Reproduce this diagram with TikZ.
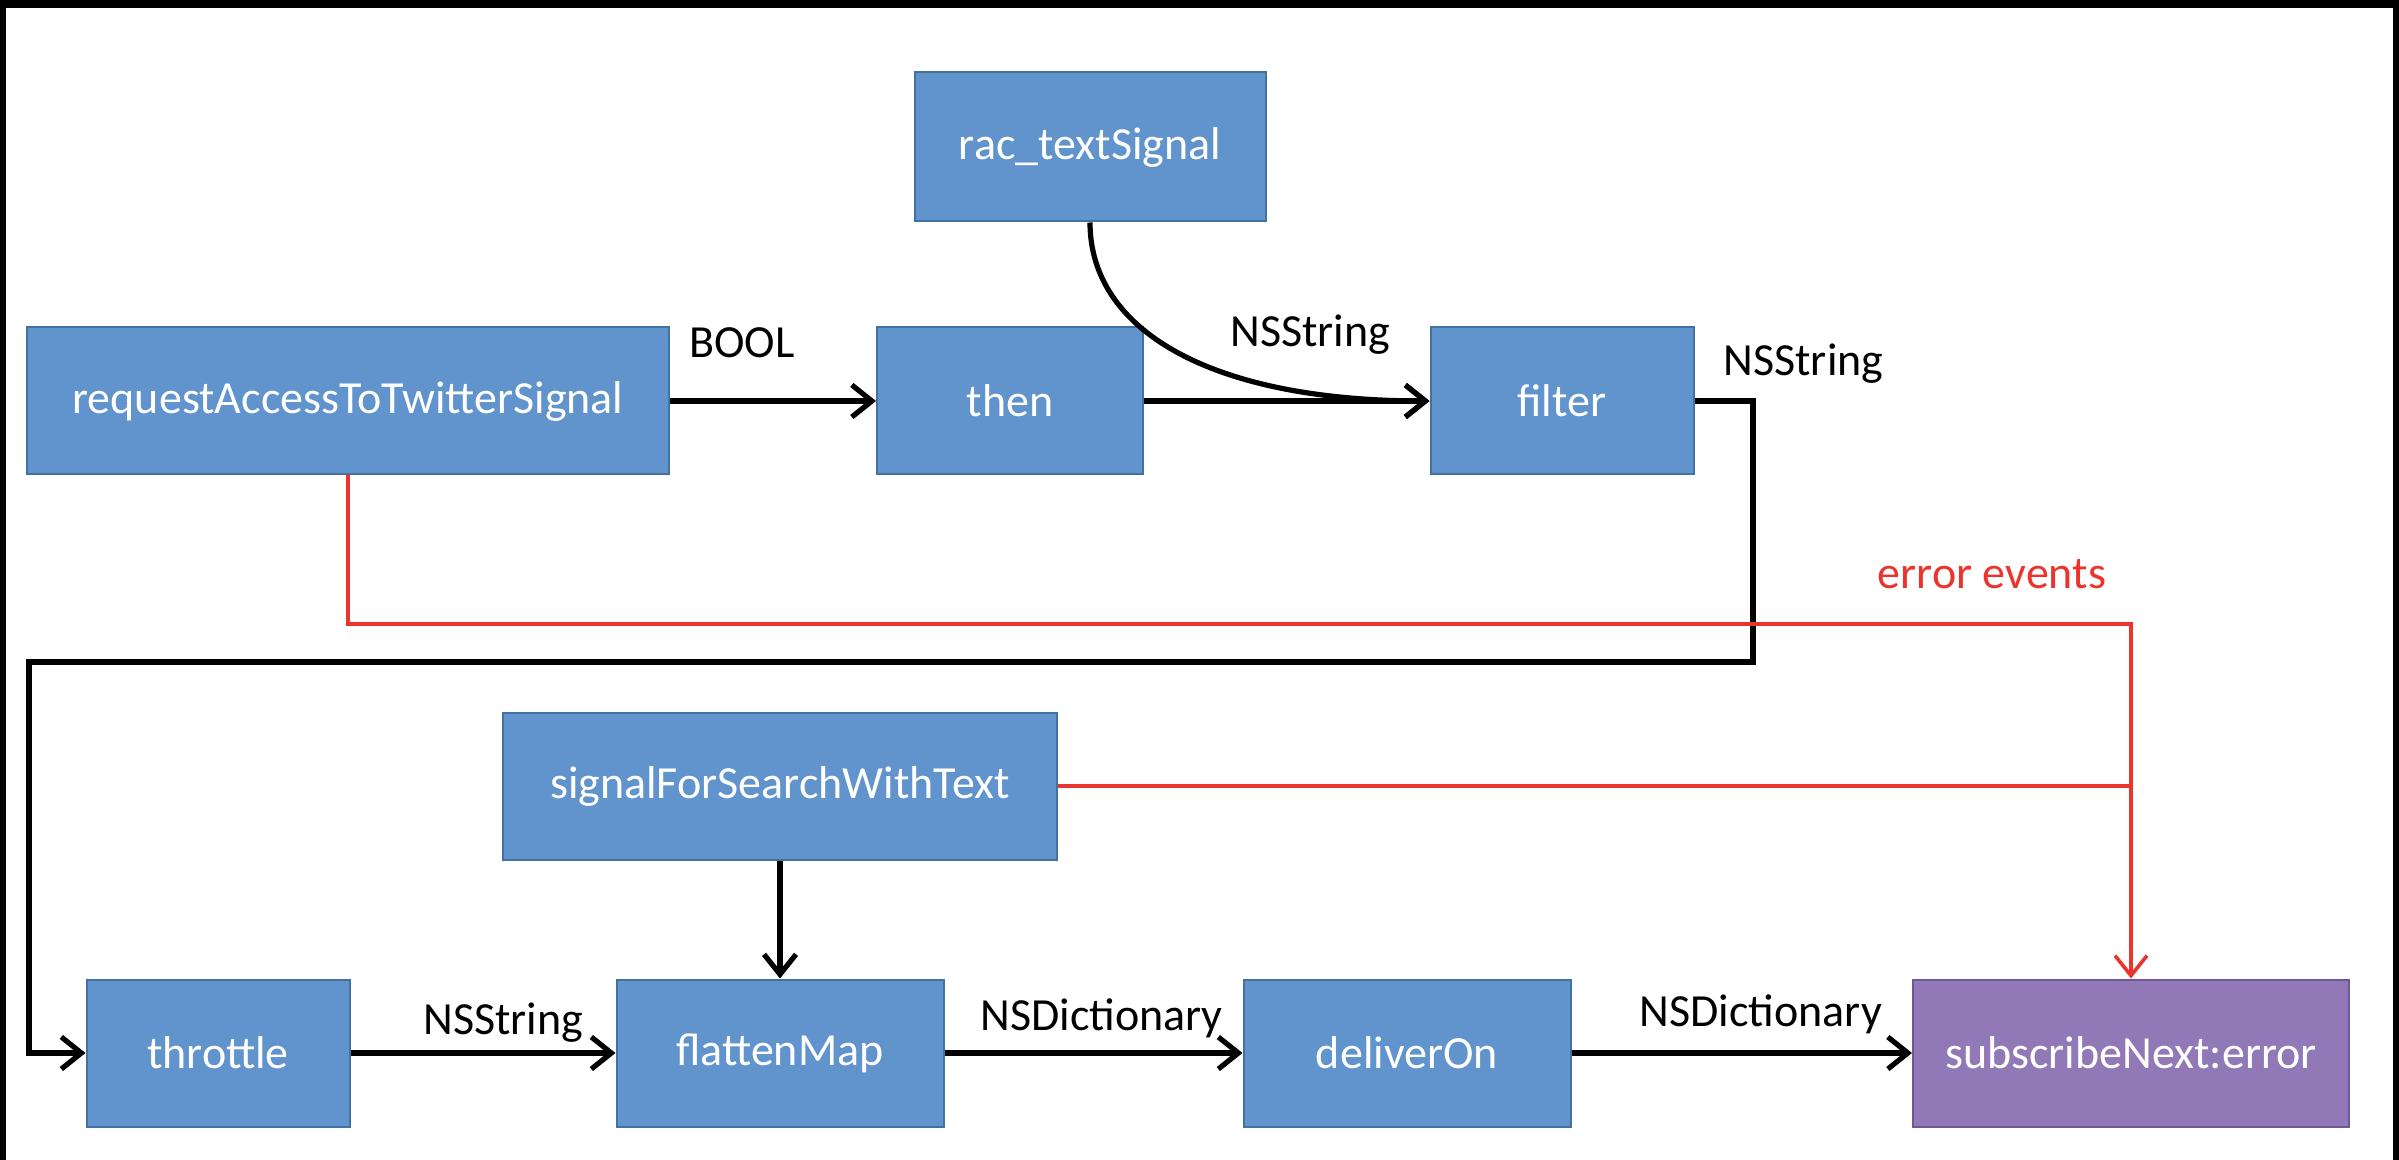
\documentclass[tikz,border=0pt]{standalone}
\usepackage{fontspec}
\setmainfont{Carlito}
\usepackage{xcolor}
\usepackage{tikz}
\usetikzlibrary{shapes,arrows.meta}
\definecolor{boxblue}{RGB}{97,147,204}
\definecolor{boxedge}{RGB}{66,114,160}
\definecolor{boxpurple}{RGB}{145,121,183}
\definecolor{purpleedge}{RGB}{112,88,150}
\definecolor{errred}{RGB}{236,52,46}
\tikzstyle{block} = [rectangle, draw=boxedge, line width=1pt, fill=boxblue, text=white,
    text centered, inner sep=0pt, minimum height=73.5pt]
\tikzstyle{sinkblock} = [block, draw=purpleedge, fill=boxpurple]
\tikzstyle{line} = [draw, line width=2.6pt, -{Straight Barb[length=10pt,width=16pt]}]
\tikzstyle{errline} = [draw=errred, line width=1.8pt, -{Straight Barb[length=10pt,width=16pt]}]
\tikzstyle{lbl} = [anchor=base, inner sep=0pt]

\begin{document}
\begin{tikzpicture}[x=0.5pt, y=-0.5pt, font=\fontsize{23}{27}\selectfont]
    % frame
    \fill [black] (0,0) rectangle (2399,1160);
    \fill [white] (6,8) rectangle (2393,1160);
    \useasboundingbox (0,0) rectangle (2399,1160);

    % Place nodes
    \node [block, minimum width=321pt] (request) at (348,401) {requestAccessToTwitterSignal};
    \node [block, minimum width=133pt, right of=request, node distance=331pt] (then) {then};
    \node [block, minimum width=131.5pt, right of=then, node distance=276pt] (filter) {filter};
    \node [block, minimum width=175.5pt, minimum height=74.5pt] (textSignal) at (1090,147) {rac\_textSignal};
    \node [block, minimum width=131.5pt] (throttle) at (218,1053) {throttle};
    \node [block, minimum width=163.5pt, right of=throttle, node distance=281pt] (flattenMap) {flattenMap};
    \node [block, minimum width=163.5pt, right of=flattenMap, node distance=313.5pt] (deliverOn) {deliverOn};
    \node [sinkblock, minimum width=218pt, right of=deliverOn, node distance=362pt] (subscribe) {subscribeNext:error};
    \node [block, minimum width=277pt, above of=flattenMap, node distance=133.5pt] (search) {signalForSearchWithText};
    \coordinate (loopRight) at (1753,662);
    \coordinate (loopLeft) at (29,662);
    \coordinate (errCorner) at (2131,624);

    % Draw edges
    \path [line] (request) -- node [lbl, pos=0.35, yshift=21.5pt] {BOOL} (then);
    \path [line] (then) -- node [lbl, pos=0.583, yshift=27pt] {NSString} (filter);
    \path [line] (textSignal.south) .. controls (1090,330) and (1210,401) .. (filter.west);
    \path [line] (filter) -| (loopRight) -- (loopLeft) |- (throttle);
    \node [lbl] (filterOut) at ([xshift=54.5pt,yshift=12.5pt]filter.east) {NSString};
    \path [line] (throttle) -- node [lbl, pos=0.577, yshift=9.5pt] {NSString} (flattenMap);
    \path [line] (flattenMap) -- node [lbl, pos=0.527, yshift=11.5pt] {NSDictionary} (deliverOn);
    \path [line] (deliverOn) -- node [lbl, pos=0.556, yshift=13.5pt] {NSDictionary} (subscribe);
    \path [line] (search) -- (flattenMap);

    % error events
    \path [errline] (request) |- node [lbl, pos=0.961, yshift=18pt, text=errred] {error events} (errCorner) -- (subscribe);
    \draw [draw=errred, line width=1.8pt] (search) -- (search -| errCorner);
\end{tikzpicture}
\end{document}
